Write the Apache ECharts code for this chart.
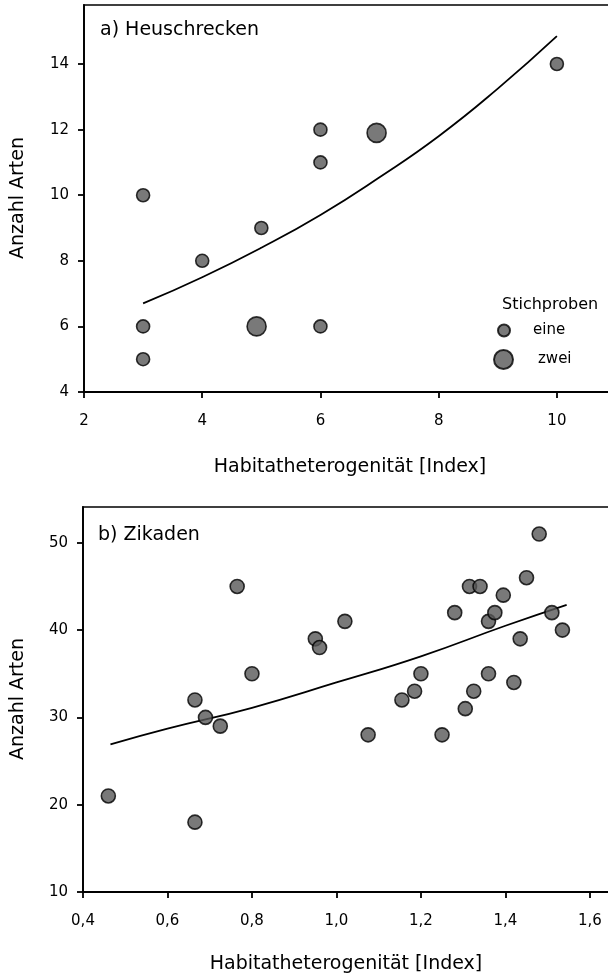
<!DOCTYPE html>
<html>
<head>
<meta charset="utf-8">
<script src="https://cdn.jsdelivr.net/npm/echarts@6/dist/echarts.min.js"></script>
<style>
  html, body { margin: 0; padding: 0; background: #fff; }
  #chart { width: 608px; height: 980px; }
</style>
</head>
<body>
<div id="chart"></div>
<script>
// a) Heuschrecken
const heuEine = [[3, 10], [3, 6], [3, 5], [4, 8], [5, 9], [6, 12], [6, 11], [6, 6], [10, 14]]
const heuZwei = [[4.92, 6], [6.95, 11.9]]
const heuKurve = [[3, 6.7], [4, 7.5], [5, 8.4], [6, 9.4], [7, 10.55], [8, 11.8], [9, 13.25], [10, 14.85]]
const heuXTicks = [2, 4, 6, 8, 10]
const heuYTicks = [4, 6, 8, 10, 12, 14]

// b) Zikaden
const zikPunkte = [
  [0.46, 21], [0.665, 32], [0.665, 18], [0.69, 30], [0.725, 29], [0.765, 45],
  [0.80, 35], [0.95, 39], [0.96, 38], [1.02, 41], [1.075, 28], [1.155, 32],
  [1.185, 33], [1.20, 35], [1.25, 28], [1.28, 42], [1.305, 31], [1.315, 45],
  [1.325, 33], [1.34, 45], [1.36, 41], [1.36, 35], [1.375, 42], [1.395, 44],
  [1.42, 34], [1.435, 39], [1.45, 46], [1.48, 51], [1.51, 42], [1.535, 40]
]
const zikKurve = [[0.465, 26.9], [0.6, 28.7], [0.8, 31.1], [1.0, 34.0], [1.2, 37.0], [1.4, 40.5], [1.545, 42.9]]
const zikXTicks = [0.4, 0.6, 0.8, 1.0, 1.2, 1.4, 1.6]
const zikYTicks = [10, 20, 30, 40, 50]

const FONT = 'DejaVu Sans'
const punktStil = { color: '#575757', borderColor: '#000', borderWidth: 1.6 }
const titelFont = '19px "' + FONT + '"'

function achse(ticks, margin, extra) {
  return Object.assign({
    type: 'value',
    axisLine: { show: true, onZero: false, lineStyle: { color: '#000', width: 1.8 } },
    axisTick: { show: true, length: 6, customValues: ticks, lineStyle: { color: '#000', width: 1.8 } },
    axisLabel: { customValues: ticks, color: '#000', fontFamily: FONT, fontSize: 15, margin: margin },
    splitLine: { show: false }
  }, extra)
}

const option = {
  animation: false,
  backgroundColor: '#fff',
  textStyle: { fontFamily: FONT },
  grid: [
    { left: 84, top: 5, width: 532, height: 387, outerBoundsMode: 'none', containLabel: false, show: true, borderColor: '#000', borderWidth: 1.7 },
    { left: 83, top: 507, width: 528, height: 385, outerBoundsMode: 'none', containLabel: false, show: true, borderColor: '#000', borderWidth: 1.7 }
  ],
  xAxis: [
    achse(heuXTicks, 22, { gridIndex: 0, min: 2, max: 11 }),
    achse(zikXTicks, 22, {
      gridIndex: 1, min: 0.4, max: 1.65,
      axisLabel: {
        customValues: zikXTicks, color: '#000', fontFamily: FONT, fontSize: 15, margin: 22,
        formatter: v => v.toFixed(1).replace('.', ',')
      }
    })
  ],
  yAxis: [
    achse(heuYTicks, 15, { gridIndex: 0, min: 4, max: 15.8 }),
    achse(zikYTicks, 15, { gridIndex: 1, min: 10, max: 54.1 })
  ],
  legend: [
    {
      data: ['eine'], left: 497, top: 323, padding: 0, icon: 'circle', itemWidth: 12, itemHeight: 12,
      textStyle: { fontFamily: FONT, fontSize: 15, color: '#000', padding: [0, 0, 0, 18] }
    },
    {
      data: ['zwei'], left: 493, top: 349, padding: 0, icon: 'circle', itemWidth: 19, itemHeight: 19,
      textStyle: { fontFamily: FONT, fontSize: 15, color: '#000', padding: [0, 0, 0, 20] }
    }
  ],
  graphic: [
    { type: 'text', left: 100, top: 21, style: { text: 'a) Heuschrecken', font: titelFont, fill: '#000' } },
    { type: 'text', left: 98, top: 526, style: { text: 'b) Zikaden', font: titelFont, fill: '#000' } },
    { type: 'text', left: 502, top: 297, style: { text: 'Stichproben', font: '16px "' + FONT + '"', fill: '#000' } },
    { type: 'text', x: 18, y: 198, rotation: Math.PI / 2, style: { text: 'Anzahl Arten', font: titelFont, fill: '#000', align: 'center', verticalAlign: 'middle' } },
    { type: 'text', x: 18, y: 699, rotation: Math.PI / 2, style: { text: 'Anzahl Arten', font: titelFont, fill: '#000', align: 'center', verticalAlign: 'middle' } },
    { type: 'text', x: 350, y: 467, style: { text: 'Habitatheterogenität [Index]', font: titelFont, fill: '#000', align: 'center', verticalAlign: 'middle' } },
    { type: 'text', x: 346, y: 964, style: { text: 'Habitatheterogenität [Index]', font: titelFont, fill: '#000', align: 'center', verticalAlign: 'middle' } }
  ],
  series: [
    {
      name: 'Kurve a', type: 'line', xAxisIndex: 0, yAxisIndex: 0, data: heuKurve,
      smooth: true, symbol: 'none', lineStyle: { color: '#000', width: 1.8 }, z: 1
    },
    {
      name: 'eine', type: 'scatter', xAxisIndex: 0, yAxisIndex: 0, data: heuEine,
      symbolSize: 13, itemStyle: punktStil, z: 3
    },
    {
      name: 'zwei', type: 'scatter', xAxisIndex: 0, yAxisIndex: 0, data: heuZwei,
      symbolSize: 19, itemStyle: punktStil, z: 3
    },
    {
      name: 'Kurve b', type: 'line', xAxisIndex: 1, yAxisIndex: 1, data: zikKurve,
      smooth: true, symbol: 'none', lineStyle: { color: '#000', width: 1.8 }, z: 1
    },
    {
      name: 'Zikaden', type: 'scatter', xAxisIndex: 1, yAxisIndex: 1, data: zikPunkte,
      symbolSize: 14, itemStyle: punktStil, z: 3
    }
  ]
}

const myChart = echarts.init(document.getElementById('chart'))
myChart.setOption(option)
</script>
</body>
</html>
